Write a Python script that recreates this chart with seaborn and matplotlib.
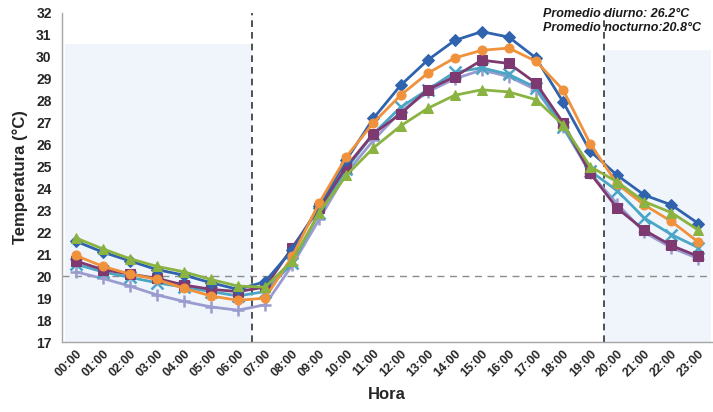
import matplotlib
matplotlib.use("Agg")
import matplotlib.pyplot as plt
import seaborn as sns
import pandas as pd
import numpy as np

horas = ["00:00", "01:00", "02:00", "03:00", "04:00", "05:00", "06:00", "07:00",
         "08:00", "09:00", "10:00", "11:00", "12:00", "13:00", "14:00", "15:00",
         "16:00", "17:00", "18:00", "19:00", "20:00", "21:00", "22:00", "23:00"]

azul = [21.6, 21.1, 20.7, 20.3, 20.05, 19.7, 19.4, 19.75, 21.2, 23.2, 25.3, 27.2,
        28.7, 29.85, 30.75, 31.15, 30.9, 29.95, 27.95, 25.7, 24.6, 23.7, 23.25, 22.4]
naranja = [20.95, 20.45, 20.1, 19.85, 19.45, 19.1, 18.9, 19.0, 20.9, 23.35, 25.45, 27.0,
           28.25, 29.25, 29.95, 30.3, 30.4, 29.8, 28.5, 26.05, 24.2, 23.25, 22.5, 21.55]
morado = [20.7, 20.3, 20.1, 19.9, 19.6, 19.4, 19.3, 19.5, 21.3, 23.1, 25.0, 26.5,
          27.4, 28.5, 29.1, 29.85, 29.7, 28.8, 27.0, 24.7, 23.1, 22.1, 21.4, 20.9]
cian = [20.55, 20.2, 19.95, 19.7, 19.5, 19.3, 19.1, 19.3, 20.6, 22.9, 24.9, 26.5,
        27.7, 28.5, 29.3, 29.5, 29.2, 28.6, 26.8, 24.8, 23.9, 22.65, 21.9, 21.3]
verde = [21.75, 21.25, 20.8, 20.45, 20.2, 19.85, 19.55, 19.5, 20.7, 22.9, 24.6, 25.85,
         26.85, 27.65, 28.25, 28.5, 28.4, 28.05, 26.9, 25.0, 24.3, 23.4, 22.9, 22.1]
lavanda = [20.2, 19.9, 19.55, 19.15, 18.85, 18.6, 18.45, 18.7, 20.5, 22.6, 24.7, 26.2,
           27.5, 28.4, 29.0, 29.4, 29.1, 28.5, 26.8, 24.7, 23.3, 22.0, 21.3, 20.8]

series = [
    ("lavanda", lavanda, "#9A9BCF", "+"),
    ("cian", cian, "#4BA6C6", "x"),
    ("morado", morado, "#7E3A70", "s"),
    ("azul", azul, "#2F63AE", "D"),
    ("naranja", naranja, "#F0923B", "o"),
    ("verde", verde, "#8AB341", "^"),
]

sns.set_style("white")
plt.rcParams["font.family"] = ["Liberation Sans", "DejaVu Sans"]
plt.rcParams["font.weight"] = "bold"

fig = plt.figure(figsize=(7.13, 4.12), dpi=100)
ax = fig.add_axes([62 / 713, 1 - 342 / 412, 650 / 713, (342 - 13) / 412])

x = np.arange(len(horas))

# zonas nocturnas
ax.axvspan(-0.4, 6.5, ymin=0, ymax=(30.6 - 17) / 15, color="#F0F5FB", lw=0, zorder=0)
ax.axvspan(19.5, 23.45, ymin=0, ymax=(30.3 - 17) / 15, color="#F0F5FB", lw=0, zorder=0)

ax.axhline(20, color="#8C8C8C", ls=(0, (5, 4)), lw=1, zorder=1)
ax.axvline(6.5, color="#333333", ls=(0, (4, 3)), lw=1.2, zorder=1)
ax.axvline(19.5, color="#333333", ls=(0, (4, 3)), lw=1.2, zorder=1)

for nombre, vals, color, mk in series:
    df = pd.DataFrame({"hora": x, "temp": vals})
    kw = dict(markersize=6.5, markeredgecolor=color, markerfacecolor=color)
    if mk in ("+", "x"):
        kw["markeredgewidth"] = 1.8
        kw["markersize"] = 8
    sns.lineplot(data=df, x="hora", y="temp", ax=ax, color=color, lw=2,
                 marker=mk, zorder=3, **kw)

ax.set_xlim(-0.4, 23.45)
ax.set_ylim(17, 32)
ax.set_yticks(range(17, 33))
ax.set_xticks(x)
ax.set_xticklabels(horas, rotation=45, ha="right", rotation_mode="anchor",
                   fontsize=9, fontweight="bold")
ax.set_xticks(np.arange(-0.5, 24, 1), minor=True)
ax.tick_params(axis="x", which="major", length=0, pad=4)
ax.tick_params(axis="x", which="minor", length=4, direction="inout", color="#A6A6A6")
ax.tick_params(axis="y", length=4, direction="out", color="#A6A6A6", labelsize=10)
for lab in ax.get_yticklabels():
    lab.set_fontweight("bold")

for s in ["top", "right"]:
    ax.spines[s].set_visible(False)
for s in ["left", "bottom"]:
    ax.spines[s].set_color("#A6A6A6")
    ax.spines[s].set_linewidth(1)

ax.set_xlabel("Hora", fontsize=12, fontweight="bold", labelpad=6)
ax.set_ylabel("Temperatura (°C)", fontsize=12, fontweight="bold", labelpad=6)

fig.text(543 / 713, 1 - 8 / 412, "Promedio diurno: 26.2°C\nPromedio nocturno:20.8°C",
         fontsize=9, fontweight="bold", fontstyle="italic", va="top", ha="left",
         linespacing=1.2, color="#1A1A1A")

fig.savefig("out.png", dpi=100)
